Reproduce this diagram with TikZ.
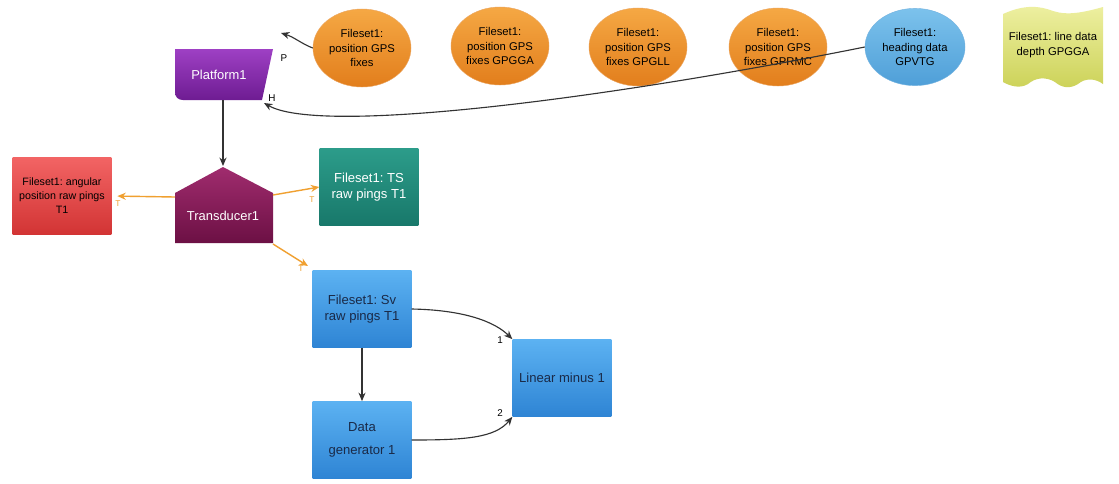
\documentclass[tikz,border=0pt]{standalone}
\usepackage{fontspec}
\setmainfont{Liberation Sans}
\usetikzlibrary{arrows.meta,shapes.geometric}
\definecolor{orA}{HTML}{F5A844}
\definecolor{orB}{HTML}{E27E1C}
\definecolor{orLine}{HTML}{F0A030}
\definecolor{blA}{HTML}{7CC2EC}
\definecolor{blB}{HTML}{4F9FD8}
\definecolor{bxA}{HTML}{5CB2F2}
\definecolor{bxB}{HTML}{2E84D4}
\definecolor{rdA}{HTML}{F26464}
\definecolor{rdB}{HTML}{D23434}
\definecolor{tlA}{HTML}{2C9C8A}
\definecolor{tlB}{HTML}{18786A}
\definecolor{puA}{HTML}{9E40C4}
\definecolor{puB}{HTML}{6E1C92}
\definecolor{mgA}{HTML}{A02C6E}
\definecolor{mgB}{HTML}{6C1044}
\definecolor{yeA}{HTML}{EEF0A2}
\definecolor{yeB}{HTML}{CCD258}
\definecolor{navy}{HTML}{1A2A48}
\frenchspacing
\begin{document}
\begin{tikzpicture}[x=0.025cm,y=-0.025cm,
  font=\fontsize{8}{10.5}\selectfont,
  oell/.style={ellipse, draw=orB!70, line width=0.3pt, top color=orA, bottom color=orB,
    minimum width=2.45cm, minimum height=1.95cm, align=center, inner sep=0pt, text=black},
  bell/.style={ellipse, draw=blB!80, line width=0.3pt, top color=blA, bottom color=blB,
    minimum width=2.5cm, minimum height=1.93cm, align=center, inner sep=0pt, text=black},
  sbox/.style={rectangle, minimum width=2.47cm, minimum height=1.93cm, align=center, inner sep=0pt},
  bbox/.style={sbox, top color=bxA, bottom color=bxB, text=navy, font=\fontsize{9.3}{11}\selectfont},
  conn/.style={line width=0.8pt, draw=black!80, -{Stealth[length=6pt,width=5pt]}},
  oconn/.style={line width=1pt, draw=orLine, -{Stealth[length=6pt,width=5pt]}},
  tlab/.style={text=orLine, font=\fontsize{6}{7}\selectfont, inner sep=0pt},
  plab/.style={text=black, font=\fontsize{7}{8}\selectfont, inner sep=0pt}]
\useasboundingbox[fill=white] (0,0) rectangle (1119,483);

% Platform1 shape
\shade[top color=puA, bottom color=puB] (175,49) -- (273,49) -- (262,100) -- (183,100)
  .. controls (178,100) and (175,97) .. (175,92) -- cycle;
\node[text=white, inner sep=0pt, font=\fontsize{9.2}{11}\selectfont] (plat) at (219,75) {Platform1};
\coordinate (platP) at (281,33);
\coordinate (platH) at (264,103);
\coordinate (platB) at (223,100);

% Transducer1 shape
\shade[top color=mgA, bottom color=mgB] (175,193) -- (223,167) -- (273,193) -- (273,243) -- (175,243) -- cycle;
\node[text=white, inner sep=0pt, font=\fontsize{9.2}{11}\selectfont] (trans) at (223,216) {Transducer1};
\coordinate (transT) at (223,166);
\coordinate (transL) at (175,197);
\coordinate (transR) at (273,195);
\coordinate (transBR) at (273,244);

% Yellow banner
\shade[top color=yeA, bottom color=yeB]
  (1003,14) .. controls (1025,4) and (1040,6) .. (1053,11) .. controls (1068,16) and (1085,12) .. (1103,7)
  -- (1103,84) .. controls (1095,78) and (1085,78) .. (1078,84) .. controls (1070,89) and (1062,88) .. (1055,82)
  .. controls (1045,76) and (1035,78) .. (1028,84) .. controls (1020,89) and (1010,86) .. (1003,82) -- cycle;
\node[align=center, inner sep=0pt, text=black] (yel) at (1053,45) {Fileset1: line data\\depth GPGGA};

% Ellipses
\node[oell] (e1) at (362,48) {Fileset1:\\position GPS\\fixes};
\node[oell] (e2) at (500,46) {Fileset1:\\position GPS\\fixes GPGGA};
\node[oell] (e3) at (638,47) {Fileset1:\\position GPS\\fixes GPGLL};
\node[oell] (e4) at (778,47) {Fileset1:\\position GPS\\fixes GPRMC};
\node[bell] (e5) at (915,47) {Fileset1:\\heading data\\GPVTG};

% Boxes
\node[sbox, top color=rdA, bottom color=rdB, text=black, font=\fontsize{7.6}{10}\selectfont] (red) at (62,196) {Fileset1: angular\\position raw pings\\T1};
\node[sbox, top color=tlA, bottom color=tlB, text=white, font=\fontsize{9.3}{11.5}\selectfont] (teal) at (369,187) {Fileset1: TS\\raw pings T1};
\node[bbox] (sv) at (362,309) {Fileset1: Sv\\raw pings T1};
\node[bbox] (dg) at (362,440) {Data\\[5pt]generator 1};
\node[bbox] (lin) at (562,378) {Linear minus 1};

% Black connectors
\draw[conn] (e1.west) .. controls (302,44) and (294,37) .. (platP);
\draw[conn] (e5.west) .. controls (600,100) and (320,135) .. (platH);
\draw[conn] (platB) -- (transT);
\draw[conn] (sv.south) -- (dg.north);
\draw[conn] (sv.east) .. controls (465,310) and (495,322) .. (lin.north west);
\draw[conn] (dg.east) .. controls (465,440) and (495,438) .. (lin.south west);

% Orange connectors
\draw[oconn, shorten >=4pt] (transL) -- (red.east);
\draw[oconn] (transR) -- (teal.west);
\draw[oconn] (transBR) -- (308,266);

% Labels
\node[plab] (lP) at (284,58) {P};
\node[plab] (lH) at (272,98) {H};
\node[plab] (l1) at (500,340) {1};
\node[plab] (l2) at (500,413) {2};
\node[tlab] (t1) at (118,204) {T};
\node[tlab] (t2) at (312,200) {T};
\node[tlab] (t3) at (301,269) {T};
\end{tikzpicture}
\end{document}
